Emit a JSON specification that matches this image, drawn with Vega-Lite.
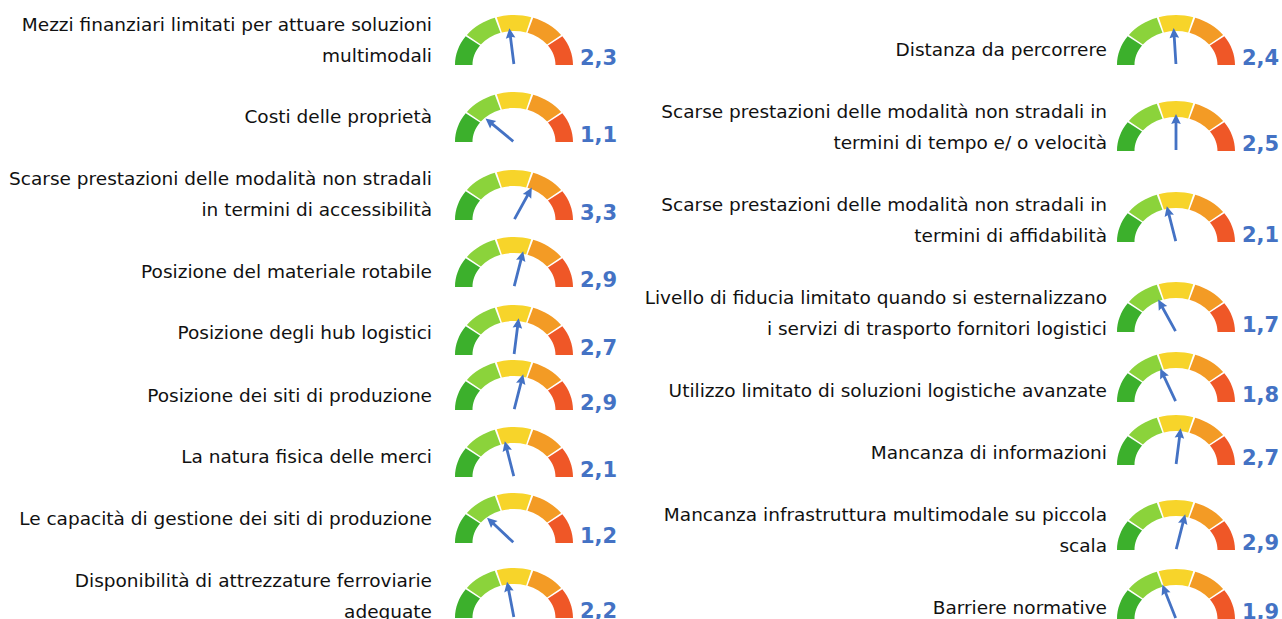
{
  "$schema": "https://vega.github.io/schema/vega-lite/v6.json",
  "padding": 0,
  "spacing": 0,
  "background": "white",
  "config": {
    "view": {"stroke": null},
    "concat": {"spacing": 0},
    "text": {"font": "DejaVu Sans"},
    "locale": {"number": {"decimal": ",", "thousands": ".", "grouping": [3], "currency": ["", " €"]}},
    "range": {
      "category": ["#3cb02c", "#8bd33b", "#f7d42a", "#f39b25", "#ef5727"],
      "symbol": [
        "M-59,0 A59,50 0 0 1 -48.33,-28.68 L-33.99,-19.5 A41.5,34 0 0 0 -41.5,0 Z",
        "M-47.12,-30.09 A59,50 0 0 1 -19.21,-47.28 L-13.51,-32.15 A41.5,34 0 0 0 -33.14,-20.46 Z",
        "M-17.25,-47.82 A59,50 0 0 1 17.25,-47.82 L12.13,-32.51 A41.5,34 0 0 0 -12.13,-32.51 Z",
        "M19.21,-47.28 A59,50 0 0 1 47.12,-30.09 L33.14,-20.46 A41.5,34 0 0 0 13.51,-32.15 Z",
        "M48.33,-28.68 A59,50 0 0 1 59,0 L41.5,0 A41.5,34 0 0 0 33.99,-19.5 Z"
      ]
    }
  },
  "datasets": {
    "segs": [{"seg": "s1"}, {"seg": "s2"}, {"seg": "s3"}, {"seg": "s4"}, {"seg": "s5"}],
    "items": [
      {"id": 1, "label": ["Mezzi finanziari limitati per attuare soluzioni", "multimodali"], "value": 2.3},
      {"id": 2, "label": "Costi delle proprietà", "value": 1.1},
      {"id": 3, "label": ["Scarse prestazioni delle modalità  non stradali", "in termini di accessibilità"], "value": 3.3},
      {"id": 4, "label": "Posizione del materiale rotabile", "value": 2.9},
      {"id": 5, "label": "Posizione degli hub logistici", "value": 2.7},
      {"id": 6, "label": "Posizione dei siti di produzione", "value": 2.9},
      {"id": 7, "label": "La natura fisica delle merci", "value": 2.1},
      {"id": 8, "label": "Le capacità   di gestione dei siti di produzione", "value": 1.2},
      {"id": 9, "label": ["Disponibilità  di attrezzature ferroviarie", "adeguate"], "value": 2.2},
      {"id": 10, "label": "Distanza da percorrere", "value": 2.4},
      {"id": 11, "label": ["Scarse prestazioni delle modalità  non stradali in", "termini di tempo e/ o velocità"], "value": 2.5},
      {"id": 12, "label": ["Scarse prestazioni delle modalità  non stradali in", "termini di affidabilità"], "value": 2.1},
      {"id": 13, "label": ["Livello di fiducia limitato quando si esternalizzano", "i servizi di trasporto fornitori logistici"], "value": 1.7},
      {"id": 14, "label": "Utilizzo limitato di soluzioni logistiche avanzate", "value": 1.8},
      {"id": 15, "label": "Mancanza di informazioni", "value": 2.7},
      {"id": 16, "label": ["Mancanza infrastruttura multimodale su piccola", "scala"], "value": 2.9},
      {"id": 17, "label": "Barriere normative", "value": 1.9}
    ]
  },
  "hconcat": [
    {
      "spacing": 0, "bounds": "flush",
      "vconcat": [
        {"width": 432, "height": 65, "data": {"name": "items"}, "transform": [{"filter": "datum.id == 1"}], "mark": {"type": "text", "align": "right", "baseline": "middle", "dy": -40, "lineHeight": 31, "font": "DejaVu Sans", "fontSize": 18.5, "color": "#111111"}, "encoding": {"text": {"field": "label", "type": "nominal"}, "x": {"datum": 1, "type": "quantitative", "scale": {"domain": [0, 1]}, "axis": null}, "y": {"datum": 0, "type": "quantitative", "scale": {"domain": [0, 1]}, "axis": null}}},
        {"width": 432, "height": 77, "data": {"name": "items"}, "transform": [{"filter": "datum.id == 2"}], "mark": {"type": "text", "align": "right", "baseline": "middle", "dy": -25, "lineHeight": 31, "font": "DejaVu Sans", "fontSize": 18.5, "color": "#111111"}, "encoding": {"text": {"field": "label", "type": "nominal"}, "x": {"datum": 1, "type": "quantitative", "scale": {"domain": [0, 1]}, "axis": null}, "y": {"datum": 0, "type": "quantitative", "scale": {"domain": [0, 1]}, "axis": null}}},
        {"width": 432, "height": 78, "data": {"name": "items"}, "transform": [{"filter": "datum.id == 3"}], "mark": {"type": "text", "align": "right", "baseline": "middle", "dy": -41, "lineHeight": 31, "font": "DejaVu Sans", "fontSize": 18.5, "color": "#111111"}, "encoding": {"text": {"field": "label", "type": "nominal"}, "x": {"datum": 1, "type": "quantitative", "scale": {"domain": [0, 1]}, "axis": null}, "y": {"datum": 0, "type": "quantitative", "scale": {"domain": [0, 1]}, "axis": null}}},
        {"width": 432, "height": 67, "data": {"name": "items"}, "transform": [{"filter": "datum.id == 4"}], "mark": {"type": "text", "align": "right", "baseline": "middle", "dy": -15, "lineHeight": 31, "font": "DejaVu Sans", "fontSize": 18.5, "color": "#111111"}, "encoding": {"text": {"field": "label", "type": "nominal"}, "x": {"datum": 1, "type": "quantitative", "scale": {"domain": [0, 1]}, "axis": null}, "y": {"datum": 0, "type": "quantitative", "scale": {"domain": [0, 1]}, "axis": null}}},
        {"width": 432, "height": 68, "data": {"name": "items"}, "transform": [{"filter": "datum.id == 5"}], "mark": {"type": "text", "align": "right", "baseline": "middle", "dy": -22, "lineHeight": 31, "font": "DejaVu Sans", "fontSize": 18.5, "color": "#111111"}, "encoding": {"text": {"field": "label", "type": "nominal"}, "x": {"datum": 1, "type": "quantitative", "scale": {"domain": [0, 1]}, "axis": null}, "y": {"datum": 0, "type": "quantitative", "scale": {"domain": [0, 1]}, "axis": null}}},
        {"width": 432, "height": 55, "data": {"name": "items"}, "transform": [{"filter": "datum.id == 6"}], "mark": {"type": "text", "align": "right", "baseline": "middle", "dy": -14, "lineHeight": 31, "font": "DejaVu Sans", "fontSize": 18.5, "color": "#111111"}, "encoding": {"text": {"field": "label", "type": "nominal"}, "x": {"datum": 1, "type": "quantitative", "scale": {"domain": [0, 1]}, "axis": null}, "y": {"datum": 0, "type": "quantitative", "scale": {"domain": [0, 1]}, "axis": null}}},
        {"width": 432, "height": 67, "data": {"name": "items"}, "transform": [{"filter": "datum.id == 7"}], "mark": {"type": "text", "align": "right", "baseline": "middle", "dy": -20, "lineHeight": 31, "font": "DejaVu Sans", "fontSize": 18.5, "color": "#111111"}, "encoding": {"text": {"field": "label", "type": "nominal"}, "x": {"datum": 1, "type": "quantitative", "scale": {"domain": [0, 1]}, "axis": null}, "y": {"datum": 0, "type": "quantitative", "scale": {"domain": [0, 1]}, "axis": null}}},
        {"width": 432, "height": 66, "data": {"name": "items"}, "transform": [{"filter": "datum.id == 8"}], "mark": {"type": "text", "align": "right", "baseline": "middle", "dy": -24, "lineHeight": 31, "font": "DejaVu Sans", "fontSize": 18.5, "color": "#111111"}, "encoding": {"text": {"field": "label", "type": "nominal"}, "x": {"datum": 1, "type": "quantitative", "scale": {"domain": [0, 1]}, "axis": null}, "y": {"datum": 0, "type": "quantitative", "scale": {"domain": [0, 1]}, "axis": null}}},
        {"width": 432, "height": 75, "data": {"name": "items"}, "transform": [{"filter": "datum.id == 9"}], "mark": {"type": "text", "align": "right", "baseline": "middle", "dy": -37, "lineHeight": 31, "font": "DejaVu Sans", "fontSize": 18.5, "color": "#111111"}, "encoding": {"text": {"field": "label", "type": "nominal"}, "x": {"datum": 1, "type": "quantitative", "scale": {"domain": [0, 1]}, "axis": null}, "y": {"datum": 0, "type": "quantitative", "scale": {"domain": [0, 1]}, "axis": null}}}
      ]
    },
    {
      "spacing": 0, "bounds": "flush",
      "vconcat": [
        {"width": 164, "height": 65, "encoding": {"y": {"datum": 0, "type": "quantitative", "scale": {"domain": [0, 1]}, "axis": null}}, "layer": [
          {"data": {"name": "segs"}, "mark": {"type": "point", "filled": true, "opacity": 1, "size": 4}, "encoding": {"shape": {"field": "seg", "type": "nominal", "legend": null}, "color": {"field": "seg", "type": "nominal", "legend": null}}},
          {"data": {"name": "items"}, "transform": [{"filter": "datum.id == 1"}], "mark": {"type": "point", "filled": true, "opacity": 1, "size": 4, "shape": "M-1.4,-1 L-1.4,-28 L-4.8,-27 L0,-37 L4.8,-27 L1.4,-28 L1.4,-1 Z", "color": "#4472c4"}, "encoding": {"angle": {"field": "value", "type": "quantitative", "scale": {"domain": [0, 5], "range": [-90, 90]}}}},
          {"data": {"name": "items"}, "transform": [{"filter": "datum.id == 1"}], "mark": {"type": "text", "align": "left", "baseline": "alphabetic", "dx": 66, "font": "DejaVu Sans", "fontWeight": "bold", "fontSize": 21, "color": "#4472c4"}, "encoding": {"text": {"field": "value", "type": "quantitative", "format": ".1f"}}}
        ]},
        {"width": 164, "height": 77, "encoding": {"y": {"datum": 0, "type": "quantitative", "scale": {"domain": [0, 1]}, "axis": null}}, "layer": [
          {"data": {"name": "segs"}, "mark": {"type": "point", "filled": true, "opacity": 1, "size": 4}, "encoding": {"shape": {"field": "seg", "type": "nominal", "legend": null}, "color": {"field": "seg", "type": "nominal", "legend": null}}},
          {"data": {"name": "items"}, "transform": [{"filter": "datum.id == 2"}], "mark": {"type": "point", "filled": true, "opacity": 1, "size": 4, "shape": "M-1.4,-1 L-1.4,-28 L-4.8,-27 L0,-37 L4.8,-27 L1.4,-28 L1.4,-1 Z", "color": "#4472c4"}, "encoding": {"angle": {"field": "value", "type": "quantitative", "scale": {"domain": [0, 5], "range": [-90, 90]}}}},
          {"data": {"name": "items"}, "transform": [{"filter": "datum.id == 2"}], "mark": {"type": "text", "align": "left", "baseline": "alphabetic", "dx": 66, "font": "DejaVu Sans", "fontWeight": "bold", "fontSize": 21, "color": "#4472c4"}, "encoding": {"text": {"field": "value", "type": "quantitative", "format": ".1f"}}}
        ]},
        {"width": 164, "height": 78, "encoding": {"y": {"datum": 0, "type": "quantitative", "scale": {"domain": [0, 1]}, "axis": null}}, "layer": [
          {"data": {"name": "segs"}, "mark": {"type": "point", "filled": true, "opacity": 1, "size": 4}, "encoding": {"shape": {"field": "seg", "type": "nominal", "legend": null}, "color": {"field": "seg", "type": "nominal", "legend": null}}},
          {"data": {"name": "items"}, "transform": [{"filter": "datum.id == 3"}], "mark": {"type": "point", "filled": true, "opacity": 1, "size": 4, "shape": "M-1.4,-1 L-1.4,-28 L-4.8,-27 L0,-37 L4.8,-27 L1.4,-28 L1.4,-1 Z", "color": "#4472c4"}, "encoding": {"angle": {"field": "value", "type": "quantitative", "scale": {"domain": [0, 5], "range": [-90, 90]}}}},
          {"data": {"name": "items"}, "transform": [{"filter": "datum.id == 3"}], "mark": {"type": "text", "align": "left", "baseline": "alphabetic", "dx": 66, "font": "DejaVu Sans", "fontWeight": "bold", "fontSize": 21, "color": "#4472c4"}, "encoding": {"text": {"field": "value", "type": "quantitative", "format": ".1f"}}}
        ]},
        {"width": 164, "height": 67, "encoding": {"y": {"datum": 0, "type": "quantitative", "scale": {"domain": [0, 1]}, "axis": null}}, "layer": [
          {"data": {"name": "segs"}, "mark": {"type": "point", "filled": true, "opacity": 1, "size": 4}, "encoding": {"shape": {"field": "seg", "type": "nominal", "legend": null}, "color": {"field": "seg", "type": "nominal", "legend": null}}},
          {"data": {"name": "items"}, "transform": [{"filter": "datum.id == 4"}], "mark": {"type": "point", "filled": true, "opacity": 1, "size": 4, "shape": "M-1.4,-1 L-1.4,-28 L-4.8,-27 L0,-37 L4.8,-27 L1.4,-28 L1.4,-1 Z", "color": "#4472c4"}, "encoding": {"angle": {"field": "value", "type": "quantitative", "scale": {"domain": [0, 5], "range": [-90, 90]}}}},
          {"data": {"name": "items"}, "transform": [{"filter": "datum.id == 4"}], "mark": {"type": "text", "align": "left", "baseline": "alphabetic", "dx": 66, "font": "DejaVu Sans", "fontWeight": "bold", "fontSize": 21, "color": "#4472c4"}, "encoding": {"text": {"field": "value", "type": "quantitative", "format": ".1f"}}}
        ]},
        {"width": 164, "height": 68, "encoding": {"y": {"datum": 0, "type": "quantitative", "scale": {"domain": [0, 1]}, "axis": null}}, "layer": [
          {"data": {"name": "segs"}, "mark": {"type": "point", "filled": true, "opacity": 1, "size": 4}, "encoding": {"shape": {"field": "seg", "type": "nominal", "legend": null}, "color": {"field": "seg", "type": "nominal", "legend": null}}},
          {"data": {"name": "items"}, "transform": [{"filter": "datum.id == 5"}], "mark": {"type": "point", "filled": true, "opacity": 1, "size": 4, "shape": "M-1.4,-1 L-1.4,-28 L-4.8,-27 L0,-37 L4.8,-27 L1.4,-28 L1.4,-1 Z", "color": "#4472c4"}, "encoding": {"angle": {"field": "value", "type": "quantitative", "scale": {"domain": [0, 5], "range": [-90, 90]}}}},
          {"data": {"name": "items"}, "transform": [{"filter": "datum.id == 5"}], "mark": {"type": "text", "align": "left", "baseline": "alphabetic", "dx": 66, "font": "DejaVu Sans", "fontWeight": "bold", "fontSize": 21, "color": "#4472c4"}, "encoding": {"text": {"field": "value", "type": "quantitative", "format": ".1f"}}}
        ]},
        {"width": 164, "height": 55, "encoding": {"y": {"datum": 0, "type": "quantitative", "scale": {"domain": [0, 1]}, "axis": null}}, "layer": [
          {"data": {"name": "segs"}, "mark": {"type": "point", "filled": true, "opacity": 1, "size": 4}, "encoding": {"shape": {"field": "seg", "type": "nominal", "legend": null}, "color": {"field": "seg", "type": "nominal", "legend": null}}},
          {"data": {"name": "items"}, "transform": [{"filter": "datum.id == 6"}], "mark": {"type": "point", "filled": true, "opacity": 1, "size": 4, "shape": "M-1.4,-1 L-1.4,-28 L-4.8,-27 L0,-37 L4.8,-27 L1.4,-28 L1.4,-1 Z", "color": "#4472c4"}, "encoding": {"angle": {"field": "value", "type": "quantitative", "scale": {"domain": [0, 5], "range": [-90, 90]}}}},
          {"data": {"name": "items"}, "transform": [{"filter": "datum.id == 6"}], "mark": {"type": "text", "align": "left", "baseline": "alphabetic", "dx": 66, "font": "DejaVu Sans", "fontWeight": "bold", "fontSize": 21, "color": "#4472c4"}, "encoding": {"text": {"field": "value", "type": "quantitative", "format": ".1f"}}}
        ]},
        {"width": 164, "height": 67, "encoding": {"y": {"datum": 0, "type": "quantitative", "scale": {"domain": [0, 1]}, "axis": null}}, "layer": [
          {"data": {"name": "segs"}, "mark": {"type": "point", "filled": true, "opacity": 1, "size": 4}, "encoding": {"shape": {"field": "seg", "type": "nominal", "legend": null}, "color": {"field": "seg", "type": "nominal", "legend": null}}},
          {"data": {"name": "items"}, "transform": [{"filter": "datum.id == 7"}], "mark": {"type": "point", "filled": true, "opacity": 1, "size": 4, "shape": "M-1.4,-1 L-1.4,-28 L-4.8,-27 L0,-37 L4.8,-27 L1.4,-28 L1.4,-1 Z", "color": "#4472c4"}, "encoding": {"angle": {"field": "value", "type": "quantitative", "scale": {"domain": [0, 5], "range": [-90, 90]}}}},
          {"data": {"name": "items"}, "transform": [{"filter": "datum.id == 7"}], "mark": {"type": "text", "align": "left", "baseline": "alphabetic", "dx": 66, "font": "DejaVu Sans", "fontWeight": "bold", "fontSize": 21, "color": "#4472c4"}, "encoding": {"text": {"field": "value", "type": "quantitative", "format": ".1f"}}}
        ]},
        {"width": 164, "height": 66, "encoding": {"y": {"datum": 0, "type": "quantitative", "scale": {"domain": [0, 1]}, "axis": null}}, "layer": [
          {"data": {"name": "segs"}, "mark": {"type": "point", "filled": true, "opacity": 1, "size": 4}, "encoding": {"shape": {"field": "seg", "type": "nominal", "legend": null}, "color": {"field": "seg", "type": "nominal", "legend": null}}},
          {"data": {"name": "items"}, "transform": [{"filter": "datum.id == 8"}], "mark": {"type": "point", "filled": true, "opacity": 1, "size": 4, "shape": "M-1.4,-1 L-1.4,-28 L-4.8,-27 L0,-37 L4.8,-27 L1.4,-28 L1.4,-1 Z", "color": "#4472c4"}, "encoding": {"angle": {"field": "value", "type": "quantitative", "scale": {"domain": [0, 5], "range": [-90, 90]}}}},
          {"data": {"name": "items"}, "transform": [{"filter": "datum.id == 8"}], "mark": {"type": "text", "align": "left", "baseline": "alphabetic", "dx": 66, "font": "DejaVu Sans", "fontWeight": "bold", "fontSize": 21, "color": "#4472c4"}, "encoding": {"text": {"field": "value", "type": "quantitative", "format": ".1f"}}}
        ]},
        {"width": 164, "height": 75, "encoding": {"y": {"datum": 0, "type": "quantitative", "scale": {"domain": [0, 1]}, "axis": null}}, "layer": [
          {"data": {"name": "segs"}, "mark": {"type": "point", "filled": true, "opacity": 1, "size": 4}, "encoding": {"shape": {"field": "seg", "type": "nominal", "legend": null}, "color": {"field": "seg", "type": "nominal", "legend": null}}},
          {"data": {"name": "items"}, "transform": [{"filter": "datum.id == 9"}], "mark": {"type": "point", "filled": true, "opacity": 1, "size": 4, "shape": "M-1.4,-1 L-1.4,-28 L-4.8,-27 L0,-37 L4.8,-27 L1.4,-28 L1.4,-1 Z", "color": "#4472c4"}, "encoding": {"angle": {"field": "value", "type": "quantitative", "scale": {"domain": [0, 5], "range": [-90, 90]}}}},
          {"data": {"name": "items"}, "transform": [{"filter": "datum.id == 9"}], "mark": {"type": "text", "align": "left", "baseline": "alphabetic", "dx": 66, "font": "DejaVu Sans", "fontWeight": "bold", "fontSize": 21, "color": "#4472c4"}, "encoding": {"text": {"field": "value", "type": "quantitative", "format": ".1f"}}}
        ]}
      ]
    },
    {
      "spacing": 0, "bounds": "flush",
      "vconcat": [
        {"width": 489, "height": 65, "data": {"name": "items"}, "transform": [{"filter": "datum.id == 10"}], "mark": {"type": "text", "align": "right", "baseline": "middle", "dy": -15, "lineHeight": 31, "font": "DejaVu Sans", "fontSize": 18.5, "color": "#111111"}, "encoding": {"text": {"field": "label", "type": "nominal"}, "x": {"datum": 1, "type": "quantitative", "scale": {"domain": [0, 1]}, "axis": null}, "y": {"datum": 0, "type": "quantitative", "scale": {"domain": [0, 1]}, "axis": null}}},
        {"width": 489, "height": 86, "data": {"name": "items"}, "transform": [{"filter": "datum.id == 11"}], "mark": {"type": "text", "align": "right", "baseline": "middle", "dy": -39, "lineHeight": 31, "font": "DejaVu Sans", "fontSize": 18.5, "color": "#111111"}, "encoding": {"text": {"field": "label", "type": "nominal"}, "x": {"datum": 1, "type": "quantitative", "scale": {"domain": [0, 1]}, "axis": null}, "y": {"datum": 0, "type": "quantitative", "scale": {"domain": [0, 1]}, "axis": null}}},
        {"width": 489, "height": 91, "data": {"name": "items"}, "transform": [{"filter": "datum.id == 12"}], "mark": {"type": "text", "align": "right", "baseline": "middle", "dy": -37, "lineHeight": 31, "font": "DejaVu Sans", "fontSize": 18.5, "color": "#111111"}, "encoding": {"text": {"field": "label", "type": "nominal"}, "x": {"datum": 1, "type": "quantitative", "scale": {"domain": [0, 1]}, "axis": null}, "y": {"datum": 0, "type": "quantitative", "scale": {"domain": [0, 1]}, "axis": null}}},
        {"width": 489, "height": 90, "data": {"name": "items"}, "transform": [{"filter": "datum.id == 13"}], "mark": {"type": "text", "align": "right", "baseline": "middle", "dy": -34, "lineHeight": 31, "font": "DejaVu Sans", "fontSize": 18.5, "color": "#111111"}, "encoding": {"text": {"field": "label", "type": "nominal"}, "x": {"datum": 1, "type": "quantitative", "scale": {"domain": [0, 1]}, "axis": null}, "y": {"datum": 0, "type": "quantitative", "scale": {"domain": [0, 1]}, "axis": null}}},
        {"width": 489, "height": 70, "data": {"name": "items"}, "transform": [{"filter": "datum.id == 14"}], "mark": {"type": "text", "align": "right", "baseline": "middle", "dy": -11, "lineHeight": 31, "font": "DejaVu Sans", "fontSize": 18.5, "color": "#111111"}, "encoding": {"text": {"field": "label", "type": "nominal"}, "x": {"datum": 1, "type": "quantitative", "scale": {"domain": [0, 1]}, "axis": null}, "y": {"datum": 0, "type": "quantitative", "scale": {"domain": [0, 1]}, "axis": null}}},
        {"width": 489, "height": 63, "data": {"name": "items"}, "transform": [{"filter": "datum.id == 15"}], "mark": {"type": "text", "align": "right", "baseline": "middle", "dy": -12, "lineHeight": 31, "font": "DejaVu Sans", "fontSize": 18.5, "color": "#111111"}, "encoding": {"text": {"field": "label", "type": "nominal"}, "x": {"datum": 1, "type": "quantitative", "scale": {"domain": [0, 1]}, "axis": null}, "y": {"datum": 0, "type": "quantitative", "scale": {"domain": [0, 1]}, "axis": null}}},
        {"width": 489, "height": 85, "data": {"name": "items"}, "transform": [{"filter": "datum.id == 16"}], "mark": {"type": "text", "align": "right", "baseline": "middle", "dy": -35, "lineHeight": 31, "font": "DejaVu Sans", "fontSize": 18.5, "color": "#111111"}, "encoding": {"text": {"field": "label", "type": "nominal"}, "x": {"datum": 1, "type": "quantitative", "scale": {"domain": [0, 1]}, "axis": null}, "y": {"datum": 0, "type": "quantitative", "scale": {"domain": [0, 1]}, "axis": null}}},
        {"width": 489, "height": 69, "data": {"name": "items"}, "transform": [{"filter": "datum.id == 17"}], "mark": {"type": "text", "align": "right", "baseline": "middle", "dy": -11, "lineHeight": 31, "font": "DejaVu Sans", "fontSize": 18.5, "color": "#111111"}, "encoding": {"text": {"field": "label", "type": "nominal"}, "x": {"datum": 1, "type": "quantitative", "scale": {"domain": [0, 1]}, "axis": null}, "y": {"datum": 0, "type": "quantitative", "scale": {"domain": [0, 1]}, "axis": null}}}
      ]
    },
    {
      "spacing": 0, "bounds": "flush",
      "vconcat": [
        {"width": 138, "height": 65, "encoding": {"y": {"datum": 0, "type": "quantitative", "scale": {"domain": [0, 1]}, "axis": null}}, "layer": [
          {"data": {"name": "segs"}, "mark": {"type": "point", "filled": true, "opacity": 1, "size": 4}, "encoding": {"shape": {"field": "seg", "type": "nominal", "legend": null}, "color": {"field": "seg", "type": "nominal", "legend": null}}},
          {"data": {"name": "items"}, "transform": [{"filter": "datum.id == 10"}], "mark": {"type": "point", "filled": true, "opacity": 1, "size": 4, "shape": "M-1.4,-1 L-1.4,-28 L-4.8,-27 L0,-37 L4.8,-27 L1.4,-28 L1.4,-1 Z", "color": "#4472c4"}, "encoding": {"angle": {"field": "value", "type": "quantitative", "scale": {"domain": [0, 5], "range": [-90, 90]}}}},
          {"data": {"name": "items"}, "transform": [{"filter": "datum.id == 10"}], "mark": {"type": "text", "align": "left", "baseline": "alphabetic", "dx": 66, "font": "DejaVu Sans", "fontWeight": "bold", "fontSize": 21, "color": "#4472c4"}, "encoding": {"text": {"field": "value", "type": "quantitative", "format": ".1f"}}}
        ]},
        {"width": 138, "height": 86, "encoding": {"y": {"datum": 0, "type": "quantitative", "scale": {"domain": [0, 1]}, "axis": null}}, "layer": [
          {"data": {"name": "segs"}, "mark": {"type": "point", "filled": true, "opacity": 1, "size": 4}, "encoding": {"shape": {"field": "seg", "type": "nominal", "legend": null}, "color": {"field": "seg", "type": "nominal", "legend": null}}},
          {"data": {"name": "items"}, "transform": [{"filter": "datum.id == 11"}], "mark": {"type": "point", "filled": true, "opacity": 1, "size": 4, "shape": "M-1.4,-1 L-1.4,-28 L-4.8,-27 L0,-37 L4.8,-27 L1.4,-28 L1.4,-1 Z", "color": "#4472c4"}, "encoding": {"angle": {"field": "value", "type": "quantitative", "scale": {"domain": [0, 5], "range": [-90, 90]}}}},
          {"data": {"name": "items"}, "transform": [{"filter": "datum.id == 11"}], "mark": {"type": "text", "align": "left", "baseline": "alphabetic", "dx": 66, "font": "DejaVu Sans", "fontWeight": "bold", "fontSize": 21, "color": "#4472c4"}, "encoding": {"text": {"field": "value", "type": "quantitative", "format": ".1f"}}}
        ]},
        {"width": 138, "height": 91, "encoding": {"y": {"datum": 0, "type": "quantitative", "scale": {"domain": [0, 1]}, "axis": null}}, "layer": [
          {"data": {"name": "segs"}, "mark": {"type": "point", "filled": true, "opacity": 1, "size": 4}, "encoding": {"shape": {"field": "seg", "type": "nominal", "legend": null}, "color": {"field": "seg", "type": "nominal", "legend": null}}},
          {"data": {"name": "items"}, "transform": [{"filter": "datum.id == 12"}], "mark": {"type": "point", "filled": true, "opacity": 1, "size": 4, "shape": "M-1.4,-1 L-1.4,-28 L-4.8,-27 L0,-37 L4.8,-27 L1.4,-28 L1.4,-1 Z", "color": "#4472c4"}, "encoding": {"angle": {"field": "value", "type": "quantitative", "scale": {"domain": [0, 5], "range": [-90, 90]}}}},
          {"data": {"name": "items"}, "transform": [{"filter": "datum.id == 12"}], "mark": {"type": "text", "align": "left", "baseline": "alphabetic", "dx": 66, "font": "DejaVu Sans", "fontWeight": "bold", "fontSize": 21, "color": "#4472c4"}, "encoding": {"text": {"field": "value", "type": "quantitative", "format": ".1f"}}}
        ]},
        {"width": 138, "height": 90, "encoding": {"y": {"datum": 0, "type": "quantitative", "scale": {"domain": [0, 1]}, "axis": null}}, "layer": [
          {"data": {"name": "segs"}, "mark": {"type": "point", "filled": true, "opacity": 1, "size": 4}, "encoding": {"shape": {"field": "seg", "type": "nominal", "legend": null}, "color": {"field": "seg", "type": "nominal", "legend": null}}},
          {"data": {"name": "items"}, "transform": [{"filter": "datum.id == 13"}], "mark": {"type": "point", "filled": true, "opacity": 1, "size": 4, "shape": "M-1.4,-1 L-1.4,-28 L-4.8,-27 L0,-37 L4.8,-27 L1.4,-28 L1.4,-1 Z", "color": "#4472c4"}, "encoding": {"angle": {"field": "value", "type": "quantitative", "scale": {"domain": [0, 5], "range": [-90, 90]}}}},
          {"data": {"name": "items"}, "transform": [{"filter": "datum.id == 13"}], "mark": {"type": "text", "align": "left", "baseline": "alphabetic", "dx": 66, "font": "DejaVu Sans", "fontWeight": "bold", "fontSize": 21, "color": "#4472c4"}, "encoding": {"text": {"field": "value", "type": "quantitative", "format": ".1f"}}}
        ]},
        {"width": 138, "height": 70, "encoding": {"y": {"datum": 0, "type": "quantitative", "scale": {"domain": [0, 1]}, "axis": null}}, "layer": [
          {"data": {"name": "segs"}, "mark": {"type": "point", "filled": true, "opacity": 1, "size": 4}, "encoding": {"shape": {"field": "seg", "type": "nominal", "legend": null}, "color": {"field": "seg", "type": "nominal", "legend": null}}},
          {"data": {"name": "items"}, "transform": [{"filter": "datum.id == 14"}], "mark": {"type": "point", "filled": true, "opacity": 1, "size": 4, "shape": "M-1.4,-1 L-1.4,-28 L-4.8,-27 L0,-37 L4.8,-27 L1.4,-28 L1.4,-1 Z", "color": "#4472c4"}, "encoding": {"angle": {"field": "value", "type": "quantitative", "scale": {"domain": [0, 5], "range": [-90, 90]}}}},
          {"data": {"name": "items"}, "transform": [{"filter": "datum.id == 14"}], "mark": {"type": "text", "align": "left", "baseline": "alphabetic", "dx": 66, "font": "DejaVu Sans", "fontWeight": "bold", "fontSize": 21, "color": "#4472c4"}, "encoding": {"text": {"field": "value", "type": "quantitative", "format": ".1f"}}}
        ]},
        {"width": 138, "height": 63, "encoding": {"y": {"datum": 0, "type": "quantitative", "scale": {"domain": [0, 1]}, "axis": null}}, "layer": [
          {"data": {"name": "segs"}, "mark": {"type": "point", "filled": true, "opacity": 1, "size": 4}, "encoding": {"shape": {"field": "seg", "type": "nominal", "legend": null}, "color": {"field": "seg", "type": "nominal", "legend": null}}},
          {"data": {"name": "items"}, "transform": [{"filter": "datum.id == 15"}], "mark": {"type": "point", "filled": true, "opacity": 1, "size": 4, "shape": "M-1.4,-1 L-1.4,-28 L-4.8,-27 L0,-37 L4.8,-27 L1.4,-28 L1.4,-1 Z", "color": "#4472c4"}, "encoding": {"angle": {"field": "value", "type": "quantitative", "scale": {"domain": [0, 5], "range": [-90, 90]}}}},
          {"data": {"name": "items"}, "transform": [{"filter": "datum.id == 15"}], "mark": {"type": "text", "align": "left", "baseline": "alphabetic", "dx": 66, "font": "DejaVu Sans", "fontWeight": "bold", "fontSize": 21, "color": "#4472c4"}, "encoding": {"text": {"field": "value", "type": "quantitative", "format": ".1f"}}}
        ]},
        {"width": 138, "height": 85, "encoding": {"y": {"datum": 0, "type": "quantitative", "scale": {"domain": [0, 1]}, "axis": null}}, "layer": [
          {"data": {"name": "segs"}, "mark": {"type": "point", "filled": true, "opacity": 1, "size": 4}, "encoding": {"shape": {"field": "seg", "type": "nominal", "legend": null}, "color": {"field": "seg", "type": "nominal", "legend": null}}},
          {"data": {"name": "items"}, "transform": [{"filter": "datum.id == 16"}], "mark": {"type": "point", "filled": true, "opacity": 1, "size": 4, "shape": "M-1.4,-1 L-1.4,-28 L-4.8,-27 L0,-37 L4.8,-27 L1.4,-28 L1.4,-1 Z", "color": "#4472c4"}, "encoding": {"angle": {"field": "value", "type": "quantitative", "scale": {"domain": [0, 5], "range": [-90, 90]}}}},
          {"data": {"name": "items"}, "transform": [{"filter": "datum.id == 16"}], "mark": {"type": "text", "align": "left", "baseline": "alphabetic", "dx": 66, "font": "DejaVu Sans", "fontWeight": "bold", "fontSize": 21, "color": "#4472c4"}, "encoding": {"text": {"field": "value", "type": "quantitative", "format": ".1f"}}}
        ]},
        {"width": 138, "height": 69, "encoding": {"y": {"datum": 0, "type": "quantitative", "scale": {"domain": [0, 1]}, "axis": null}}, "layer": [
          {"data": {"name": "segs"}, "mark": {"type": "point", "filled": true, "opacity": 1, "size": 4}, "encoding": {"shape": {"field": "seg", "type": "nominal", "legend": null}, "color": {"field": "seg", "type": "nominal", "legend": null}}},
          {"data": {"name": "items"}, "transform": [{"filter": "datum.id == 17"}], "mark": {"type": "point", "filled": true, "opacity": 1, "size": 4, "shape": "M-1.4,-1 L-1.4,-28 L-4.8,-27 L0,-37 L4.8,-27 L1.4,-28 L1.4,-1 Z", "color": "#4472c4"}, "encoding": {"angle": {"field": "value", "type": "quantitative", "scale": {"domain": [0, 5], "range": [-90, 90]}}}},
          {"data": {"name": "items"}, "transform": [{"filter": "datum.id == 17"}], "mark": {"type": "text", "align": "left", "baseline": "alphabetic", "dx": 66, "font": "DejaVu Sans", "fontWeight": "bold", "fontSize": 21, "color": "#4472c4"}, "encoding": {"text": {"field": "value", "type": "quantitative", "format": ".1f"}}}
        ]}
      ]
    }
  ]
}
